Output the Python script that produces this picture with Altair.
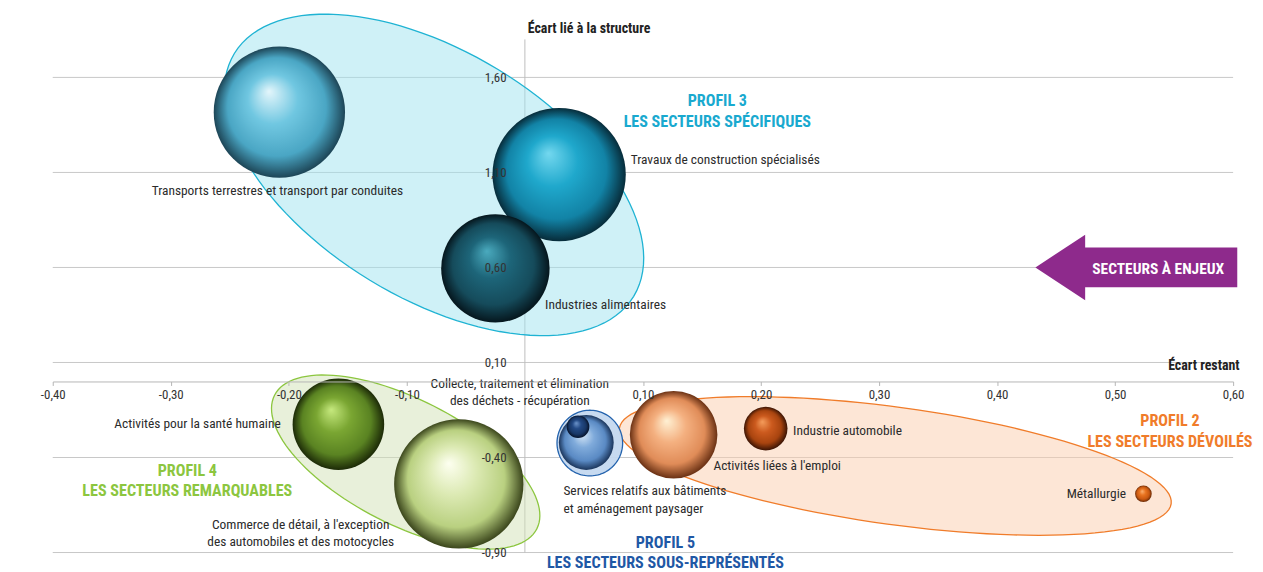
import altair as alt
import pandas as pd
import numpy as np

# ---------------- data ----------------
secteurs = [
    "Transports terrestres et transport par conduites",
    "Travaux de construction spécialisés",
    "Industries alimentaires",
    "Activités pour la santé humaine",
    "Commerce de détail, à l'exception\ndes automobiles et des motocycles",
    "Services relatifs aux bâtiments\net aménagement paysager",
    "Collecte, traitement et élimination\ndes déchets - récupération",
    "Activités liées à l'emploi",
    "Industrie automobile",
    "Métallurgie",
]
ecart_restant = [-0.208, 0.029, -0.025, -0.158, -0.056, 0.052, 0.045, 0.126, 0.204, 0.524]
ecart_structure = [1.417, 1.089, 0.595, -0.225, -0.539, -0.321, -0.238, -0.280, -0.248, -0.591]
poids = [43.6, 44.9, 29.7, 21.2, 42.3, 7.6, 1.3, 19.4, 4.8, 0.7]
profils = [3, 3, 3, 4, 4, 5, 5, 2, 2, 2]

x_ticks = [-0.4, -0.3, -0.2, -0.1, 0.1, 0.2, 0.3, 0.4, 0.5, 0.6]
y_ticks = [-0.9, -0.4, 0.1, 0.6, 1.1, 1.6]

profil_titres = [
    "PROFIL 3\nLES SECTEURS SPÉCIFIQUES",
    "PROFIL 4\nLES SECTEURS REMARQUABLES",
    "PROFIL 2\nLES SECTEURS DÉVOILÉS",
    "PROFIL 5\nLES SECTEURS SOUS-REPRÉSENTÉS",
]
profil_x = [0.163, -0.286, 0.5465, 0.119]
profil_y = [1.474, -0.470, -0.210, -0.850]
profil_couleurs = ["#19a9cf", "#8cc63f", "#f07c2a", "#1f58a5"]

# ---------------- styles ----------------
W, H = 1187, 516
FONT = "Liberation Sans Narrow, Roboto Condensed, DejaVu Sans Condensed, Arial Narrow, sans-serif"
TXT = "#2b2b2b"

XS = alt.Scale(domain=[-0.4, 0.6], nice=False, zero=False)
YS = alt.Scale(domain=[-0.9, 1.8], nice=False, zero=False)

fmt = "replace(replace(format(datum.value, '.2f'), '.', ','), '\u2212', '-')"

x_axis = alt.Axis(values=x_ticks, offset=-172, grid=False, domain=True, domainColor="#b5b5b5",
                  tickColor="#b5b5b5", tickSize=4, labelFlush=False, labelPadding=3,
                  labelExpr=fmt, labelFont=FONT, labelFontSize=13, labelColor="#333333",
                  title="Écart restant", titleX=1193, titleY=-16, titleAlign="right",
                  titleBaseline="middle", titleFont=FONT, titleFontSize=14,
                  titleFontWeight="bold", titleColor="#222222", zindex=1)
y_axis = alt.Axis(values=y_ticks, offset=-474.8, grid=False, domain=False, ticks=False,
                  tickSize=0, labelPadding=19, labelExpr=fmt, labelFont=FONT,
                  labelFontSize=13, labelColor="#333333",
                  title="Écart lié à la structure", titleAngle=0, titleX=64, titleY=-11,
                  titleAlign="center", titleBaseline="middle", titleFont=FONT,
                  titleFontSize=14, titleFontWeight="bold", titleColor="#222222", zindex=1)


def X():
    return alt.X("x:Q", scale=XS, axis=x_axis)


def Y():
    return alt.Y("y:Q", scale=YS, axis=y_axis)


def ellipse_path(ratio, n=120):
    t = np.linspace(0, 2 * np.pi, n, endpoint=False)
    pts = [f"{np.cos(a):.4f} {ratio * np.sin(a):.4f}" for a in t]
    return "M " + " L ".join(pts) + " Z"


layers = []

# grid lines
layers.append(
    alt.Chart(pd.DataFrame({"y": y_ticks}))
    .mark_rule(color="#c8c8c8", strokeWidth=1)
    .encode(y=Y(), x=alt.value(0), x2=alt.value(W))
)
# vertical axis line at x = 0
layers.append(
    alt.Chart(pd.DataFrame({"x": [0.0]}))
    .mark_rule(color="#bdbdbd", strokeWidth=1)
    .encode(x=X(), y=alt.value(0), y2=alt.value(H))
)

# profile envelopes (centre in data units, axes in px, angle in degrees)
enveloppes = [
    dict(x=-0.077, y=1.087, a=235, b=124, ang=31.3, fill="#9fe3ef", stroke="#1fb3d3", op=0.5),
    dict(x=-0.101, y=-0.424, a=148, b=63, ang=27.0, fill="#d1e1b5", stroke="#8cc63f", op=0.5),
    dict(x=0.3138, y=-0.4445, a=280, b=59, ang=7.8, fill="#fbcdad", stroke="#f07c2a", op=0.5),
    dict(x=0.055, y=-0.324, a=33, b=33, ang=0.0, fill="#c4d8ef", stroke="#2463ad", op=0.95),
]
for e in enveloppes:
    layers.append(
        alt.Chart(pd.DataFrame({"x": [e["x"]], "y": [e["y"]]}))
        .mark_point(shape=ellipse_path(e["b"] / e["a"]), size=(2 * e["a"]) ** 2,
                    angle=e["ang"], filled=True, fill=e["fill"], fillOpacity=e["op"],
                    stroke=e["stroke"], strokeWidth=1.3, strokeOpacity=1, opacity=1)
        .encode(x=X(), y=Y())
    )

# bubbles
df = pd.DataFrame({
    "id": list(range(len(secteurs))),
    "x": ecart_restant,
    "y": ecart_structure,
    "poids": poids,
    "label": secteurs,
    "profil": profils,
})

sphere_colors = [
    ["#e4f6fb", "#70c7e1", "#4aa6c4", "#1d4556"],
    ["#74d8ef", "#1fa8cc", "#1283a6", "#072c3a"],
    ["#4aaabe", "#1d6579", "#154b5b", "#05161d"],
    ["#c6e97e", "#7aa632", "#5a8322", "#1c2a07"],
    ["#fdfff0", "#dbe9b2", "#b9d080", "#3b461c"],
    ["#dbeaf8", "#80abdb", "#5a8ac4", "#1b355b"],
    ["#6f97cd", "#234a86", "#183766", "#06132a"],
    ["#fff1d4", "#f4b080", "#e08c58", "#6a3114"],
    ["#f59d5c", "#cc5a1e", "#a8440f", "#3b1404"],
    ["#fcb374", "#e8731f", "#c95810", "#652806"],
]
stop_offsets = [0.0, 0.38, 0.75, 1.0]

# label offsets (px) from each bubble centre (first line for multi-line labels)
label_style = [
    dict(dx=-2, dy=79, align="center"),
    dict(dx=72, dy=-15, align="left"),
    dict(dx=50, dy=37, align="left"),
    dict(dx=-58, dy=0, align="right"),
    dict(dx=-159, dy=41, align="center"),
    dict(dx=-23, dy=49.3, align="left"),
    dict(dx=-58.5, dy=-43, align="center"),
    dict(dx=40, dy=32, align="left"),
    dict(dx=27.5, dy=2, align="left"),
    dict(dx=-17.5, dy=0, align="right"),
]

size_enc = alt.Size("poids:Q", scale=alt.Scale(type="linear", domain=[0, 50], range=[0, 20000]),
                    legend=None)

for i in range(len(secteurs)):
    grad = alt.RadialGradient(
        gradient="radial",
        stops=[alt.GradientStop(color=c, offset=o) for c, o in zip(sphere_colors[i], stop_offsets)],
        x1=0.42, y1=0.34, r1=0.0, x2=0.5, y2=0.5, r2=0.5,
    )
    layers.append(
        alt.Chart(df).transform_filter(alt.datum.id == i)
        .mark_circle(fill=grad, opacity=1, fillOpacity=1)
        .encode(x=X(), y=Y(), size=size_enc)
    )

for i in range(len(secteurs)):
    s = label_style[i]
    layers.append(
        alt.Chart(df).transform_filter(alt.datum.id == i)
        .mark_text(align=s["align"], baseline="middle", dx=s["dx"], dy=s["dy"], font=FONT,
                   fontSize=13.5, color=TXT, lineBreak="\n", lineHeight=17.5)
        .encode(x=X(), y=Y(), text="label:N")
    )

# profile titles
dfp = pd.DataFrame({"x": profil_x, "y": profil_y, "t": profil_titres, "c": profil_couleurs})
layers.append(
    alt.Chart(dfp)
    .mark_text(align="center", baseline="middle", font=FONT, fontSize=16.2, fontWeight="bold",
               lineBreak="\n", lineHeight=20.5)
    .encode(x=X(), y=Y(), text="t:N", color=alt.Color("c:N", scale=None))
)

# "secteurs à enjeux" arrow
arrow_path = ("M -1 0 L -0.507 -0.325 L -0.507 -0.197 L 1 -0.197 L 1 0.197 "
              "L -0.507 0.197 L -0.507 0.325 Z")
fleche = pd.DataFrame({"x": [0.518], "y": [0.60], "t": ["SECTEURS À ENJEUX"]})
layers.append(
    alt.Chart(fleche)
    .mark_point(shape=arrow_path, size=203 ** 2, filled=True, fill="#8e2a8c", opacity=1,
                strokeWidth=0)
    .encode(x=X(), y=Y())
)
layers.append(
    alt.Chart(fleche)
    .mark_text(align="center", baseline="middle", dx=22, dy=2, font=FONT, fontSize=15.5,
               fontWeight="bold", color="#ffffff")
    .encode(x=X(), y=Y(), text="t:N")
)

chart = (
    alt.layer(*layers)
    .properties(width=W, height=H, autosize=alt.AutoSizeParams(type="none"),
                padding={"left": 45, "top": 30, "right": 22, "bottom": 18})
    .configure_view(stroke=None)
)

chart.save("out.html", embed_options={"renderer": "svg", "actions": False})
